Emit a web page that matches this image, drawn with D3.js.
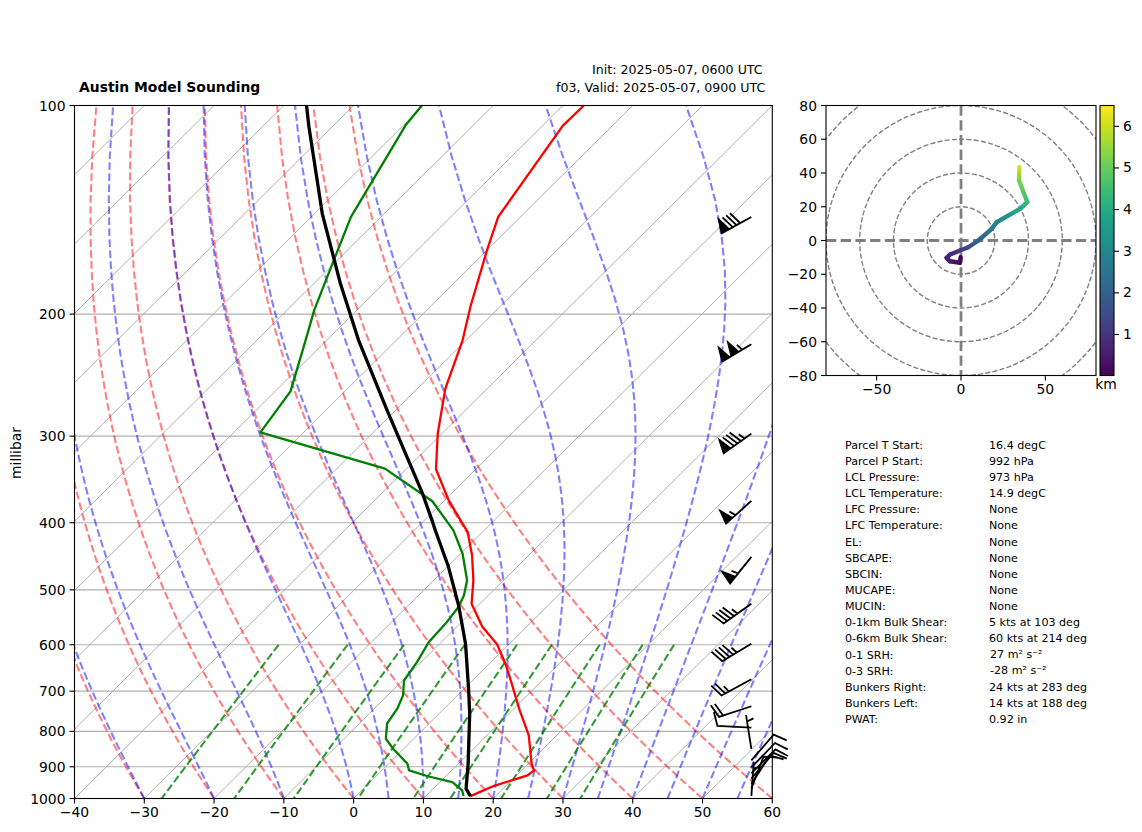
<!DOCTYPE html>
<html>
<head>
<meta charset="utf-8">
<title>Austin Model Sounding</title>
<script src="https://cdn.jsdelivr.net/npm/d3@7"></script>
<style>
    body { margin: 0; background: #fff; }
    text { font-family: "DejaVu Sans", sans-serif; fill: #000; }
    .tick text { font-family: "DejaVu Sans", sans-serif; font-size: 13.9px; }
    .tick line { stroke: #000; stroke-width: 1.1px; }
</style>
</head>
<body>
<div id="chart"></div>
<script>
// temperature profile
const tempPressure = [992, 958.7, 926.3, 911, 891, 811, 741.3, 675.7, 639, 599, 564.6, 523.5, 484.6, 445.9, 412.6, 396.9, 371.3, 334.9, 297.5, 256.2, 218.2, 195.3, 161.8, 144.8, 107, 100];
const tempValues = [16.4, 18.3, 21.6, 21.8, 20.5, 16.0, 10.7, 5.5, 2.3, -1.7, -6.4, -11.2, -14.3, -18.1, -22.1, -24.8, -29.4, -35.7, -40.6, -46.0, -50.5, -54.2, -60.0, -63.2, -67.1, -67.0];

// dewpoint profile
const dewPressure = [992, 973.7, 947.3, 929.5, 911, 891, 847.7, 820, 780, 742, 710, 675.7, 635.6, 594.6, 556.6, 529.6, 509.3, 484.6, 443.4, 410.2, 372.5, 334.2, 296.2, 258.5, 218.2, 197.5, 165.4, 144.8, 106.8, 100.1];
const dewValues = [15.4, 14.4, 11.8, 7.6, 3.9, 2.7, -1.5, -4.0, -6.0, -6.7, -7.8, -9.8, -10.6, -11.8, -12.1, -12.6, -13.5, -15.2, -19.7, -24.4, -31.6, -43.1, -66.2, -67.8, -73.0, -76.1, -80.8, -84.3, -89.7, -90.2];

// parcel path
const parcelPressure = [992, 968, 891, 754.5, 693.9, 597.9, 526.6, 461, 410.2, 396.9, 363.2, 275.4, 218.2, 180.7, 143.2, 107.4, 100.1];
const parcelValues = [16.4, 14.7, 11.4, 4.4, 0.6, -6.3, -12.8, -20.1, -27.0, -28.9, -34.1, -51.2, -65.4, -76.2, -88.9, -103.3, -106.7];

// wind barbs
const barbPressure = [144.8, 221, 297.5, 372, 448, 523.5, 597.9, 673, 736, 790, 847.7, 881, 902, 920, 936, 953, 967, 992];
const barbDirection = [241, 239, 234.5, 228, 218.7, 234.5, 239, 241.6, 251.8, 273, 351, 41, 44, 45, 41, 33, 21, 4];
const barbSpeed = [80, 105, 85, 55, 55, 45, 45, 25, 20, 10, 5, 10, 10, 10, 10, 10, 10, 5];

// hodograph
const hodoU = [-0.2, -0.6, -6.5, -8.5, -6.5, -0.6, 4.3, 10.3, 18.2, 21.1, 35, 39.3, 34.4, 34.6];
const hodoV = [-9.9, -13.2, -12.3, -10.3, -8.3, -5.9, -4, 0, 6.9, 10.8, 18.8, 22.7, 35.6, 43.4];
const hodoHeight = [0.05, 0.2, 0.4, 0.6, 0.8, 1.1, 1.4, 2.0, 2.6, 3.0, 3.9, 4.4, 5.2, 6.1];
const hodoRings = [20, 40, 60, 80, 100];
const hodoTicksX = [-50, 0, 50];
const hodoTicksY = [-80, -60, -40, -20, 0, 20, 40, 60, 80];
const heightTicks = [1, 2, 3, 4, 5, 6];

// background lines of the skew-T
const pressureTicks = [100, 200, 300, 400, 500, 600, 700, 800, 900, 1000];
const tempTicks = [-40, -30, -20, -10, 0, 10, 20, 30, 40, 50, 60];
const mixingRatios = [0.0004, 0.001, 0.002, 0.004, 0.007, 0.01, 0.016, 0.024, 0.032];

// parameter table
const tableLabels = ["Parcel T Start:", "Parcel P Start:", "LCL Pressure:", "LCL Temperature:", "LFC Pressure:", "LFC Temperature:", "EL:", "SBCAPE:", "SBCIN:", "MUCAPE:", "MUCIN:", "0-1km Bulk Shear:", "0-6km Bulk Shear:", "0-1 SRH:", "0-3 SRH:", "Bunkers Right:", "Bunkers Left:", "PWAT:"];
const tableValues = ["16.4 degC", "992 hPa", "973 hPa", "14.9 degC", "None", "None", "None", "None", "None", "None", "None", "5 kts at 103 deg", "60 kts at 214 deg", "27 m² s⁻²", "-28 m² s⁻²", "24 kts at 283 deg", "14 kts at 188 deg", "0.92 in"];

const svg = d3.select("#chart").append("svg").attr("width", 1142).attr("height", 832);
const defs = svg.append("defs");

const plotLeft = 74.5, plotRight = 772.3, plotTop = 105.5, plotBottom = 798.5;
const xScale = d3.scaleLinear().domain([-40, 60]).range([plotLeft, plotRight]);
const yScale = d3.scaleLog().domain([1000, 100]).range([plotBottom, plotTop]);

// 45 deg skew done in axes coordinates, same as the matplotlib skewx projection
function skewX(t, p) {
    return xScale(t) + (plotBottom - yScale(p)) / (plotBottom - plotTop) * (plotRight - plotLeft);
}

const skewLine = d3.line().x(d => skewX(d[0], d[1])).y(d => yScale(d[1]));

defs.append("clipPath").attr("id", "plot-clip").append("rect")
    .attr("x", plotLeft).attr("y", plotTop)
    .attr("width", plotRight - plotLeft).attr("height", plotBottom - plotTop);

const plot = svg.append("g").attr("clip-path", "url(#plot-clip)");

// Grid
d3.range(-140, 61, 10).forEach(t => {
    plot.append("path")
        .attr("d", skewLine([[t, 1000], [t, 100]]))
        .attr("fill", "none").attr("stroke", "#b0b0b0").attr("stroke-width", 1);
});
pressureTicks.forEach(p => {
    plot.append("line")
        .attr("x1", plotLeft).attr("x2", plotRight)
        .attr("y1", yScale(p)).attr("y2", yScale(p))
        .attr("stroke", "#b0b0b0").attr("stroke-width", 1.1);
});

// Thermodynamic background
const levels = d3.range(0, 50).map(i => 1000 - i * 900 / 49);

function satVapor(tK) {
    return 6.112 * Math.exp(17.67 * (tK - 273.15) / (tK - 29.65));
}

function moistSlope(tK, p) {
    const es = satVapor(tK);
    const rs = 0.622 * es / (p - es);
    const lv = 2.501e6, rd = 287.047, cp = 1004.67;
    return (rd * tK + lv * rs) / (cp + lv * lv * rs * 0.622 / (rd * tK * tK)) / p;
}

function moistAdiabat(t0) {
    let tK = t0 + 273.15;
    let p = 1000;
    return levels.map(level => {
        const steps = 8;
        const dp = (level - p) / steps;
        for (let i = 0; i < steps; i++) {
            const k1 = moistSlope(tK, p);
            const k2 = moistSlope(tK + k1 * dp / 2, p + dp / 2);
            const k3 = moistSlope(tK + k2 * dp / 2, p + dp / 2);
            const k4 = moistSlope(tK + k3 * dp, p + dp);
            tK += dp * (k1 + 2 * k2 + 2 * k3 + k4) / 6;
            p += dp;
        }
        return [tK - 273.15, level];
    });
}

function dryAdiabat(t0) {
    return levels.map(p => [(t0 + 273.15) * Math.pow(p / 1000, 287.047 / 1004.67) - 273.15, p]);
}

function mixingLine(w) {
    return d3.range(0, 50).map(i => {
        const p = 600 + i * 400 / 49;
        const val = Math.log(p * w / (0.622 + w) / 6.112);
        return [243.5 * val / (17.67 - val), p];
    });
}

function drawBackground(lines, color, opacity) {
    lines.forEach(line => {
        plot.append("path")
            .attr("d", skewLine(line))
            .attr("fill", "none")
            .attr("stroke", color)
            .attr("stroke-opacity", opacity)
            .attr("stroke-width", 2.08)
            .attr("stroke-dasharray", "7.7,3.3");
    });
}

drawBackground(d3.range(-40, 61, 10).map(dryAdiabat), "#ff0000", 0.5);
drawBackground(d3.range(-40, 0, 10).concat(d3.range(0, 61, 5)).map(moistAdiabat), "#0000ff", 0.5);
drawBackground(mixingRatios.map(mixingLine), "#008000", 0.8);

// Profiles
function drawProfile(pressures, values, color, width) {
    plot.append("path")
        .attr("d", skewLine(values.map((t, i) => [t, pressures[i]])))
        .attr("fill", "none")
        .attr("stroke", color)
        .attr("stroke-width", width)
        .attr("stroke-linejoin", "round");
}

drawProfile(tempPressure, tempValues, "#ff0000", 2.3);
drawProfile(dewPressure, dewValues, "#008000", 2.3);
drawProfile(parcelPressure, parcelValues, "#000000", 3.3);

// Wind barbs, built the way matplotlib does it: tip at the pivot, flags first from the tail
function barbPath(speed, direction) {
    const len = 34, spacing = len * 0.125, height = len * 0.4, width = len * 0.25;
    let rest = Math.round(speed / 5) * 5;
    const flags = Math.floor(rest / 50); rest -= flags * 50;
    const full = Math.floor(rest / 10); rest -= full * 10;
    const half = rest >= 5;
    const verts = [[0, 0]];
    let offset = len;
    for (let i = 0; i < flags; i++) {
        if (offset !== len) offset += spacing / 2;
        verts.push([0, offset], [height, offset - width / 2], [0, offset - width]);
        offset -= width + spacing;
    }
    for (let i = 0; i < full; i++) {
        verts.push([0, offset], [height, offset + width / 2], [0, offset]);
        offset -= spacing;
    }
    if (half) {
        if (offset === len) {
            verts.push([0, offset]);
            offset -= 1.5 * spacing;
        }
        verts.push([0, offset], [height / 2, offset + width / 4], [0, offset]);
    }
    verts.push([0, 0]);
    const a = direction * Math.PI / 180;
    // local y runs tip to tail, local x is the feather side
    return "M" + verts.map(v => {
        const sx = v[1] * Math.sin(a) + v[0] * Math.cos(a);
        const sy = -v[1] * Math.cos(a) + v[0] * Math.sin(a);
        return sx.toFixed(2) + "," + sy.toFixed(2);
    }).join("L") + "Z";
}

const barbX = plotLeft + 0.97 * (plotRight - plotLeft);
barbPressure.forEach((p, i) => {
    svg.append("path")
        .attr("transform", `translate(${barbX},${yScale(p)})`)
        .attr("d", barbPath(barbSpeed[i], barbDirection[i]))
        .attr("fill", "#000")
        .attr("stroke", "#000")
        .attr("stroke-width", 1.8)
        .attr("stroke-linejoin", "miter");
});

// Axes and frame
svg.append("rect")
    .attr("x", plotLeft).attr("y", plotTop)
    .attr("width", plotRight - plotLeft).attr("height", plotBottom - plotTop)
    .attr("fill", "none").attr("stroke", "#000").attr("stroke-width", 1.1);

function styleAxis(g) {
    g.select(".domain").remove();
    g.selectAll(".tick line").attr("stroke", "#000");
}

function leftLabels(g) {
    g.selectAll(".tick text").attr("dy", "0.36em");
}

svg.append("g").attr("transform", `translate(0,${plotBottom})`)
    .call(d3.axisBottom(xScale).offset(0).tickValues(tempTicks).tickSize(5).tickPadding(4).tickFormat(d3.format("d")))
    .call(styleAxis);
svg.append("g").attr("transform", `translate(${plotLeft},0)`)
    .call(d3.axisLeft(yScale).offset(0).tickValues(pressureTicks).tickSize(5).tickPadding(4).tickFormat(d3.format("d")))
    .call(styleAxis).call(leftLabels);

svg.append("text")
    .attr("transform", "translate(21,453) rotate(-90)")
    .attr("text-anchor", "middle")
    .style("font-size", "13.9px")
    .text("millibar");

// Titles
svg.append("text").attr("x", 79).attr("y", 92)
    .style("font-size", "13.9px").style("font-weight", "bold")
    .text("Austin Model Sounding");
svg.append("text").attr("x", 592).attr("y", 74)
    .style("font-size", "12.6px")
    .text("Init: 2025-05-07, 0600 UTC");
svg.append("text").attr("x", 556).attr("y", 92)
    .style("font-size", "12.6px")
    .text("f03, Valid: 2025-05-07, 0900 UTC");

// Hodograph
const hodoLeft = 826, hodoRight = 1096, hodoTop = 105.5, hodoBottom = 375.5;
const hodoX = d3.scaleLinear().domain([-80, 80]).range([hodoLeft, hodoRight]);
const hodoY = d3.scaleLinear().domain([-80, 80]).range([hodoBottom, hodoTop]);
const heightScale = d3.scaleLinear().domain([0.015, 6.5]).range([hodoBottom, hodoTop]);
const heightColor = d3.scaleSequential(d3.interpolateViridis).domain([0.015, 6.5]);

defs.append("clipPath").attr("id", "hodo-clip").append("rect")
    .attr("x", hodoLeft).attr("y", hodoTop)
    .attr("width", hodoRight - hodoLeft).attr("height", hodoBottom - hodoTop);

const hodo = svg.append("g").attr("clip-path", "url(#hodo-clip)");

hodoRings.forEach(r => {
    hodo.append("circle")
        .attr("cx", hodoX(0)).attr("cy", hodoY(0))
        .attr("r", hodoX(r) - hodoX(0))
        .attr("fill", "none").attr("stroke", "#808080")
        .attr("stroke-width", 1.39).attr("stroke-dasharray", "5.1,2.2");
});
hodo.append("line").attr("x1", hodoLeft).attr("x2", hodoRight)
    .attr("y1", hodoY(0)).attr("y2", hodoY(0))
    .attr("stroke", "#808080").attr("stroke-width", 2.78).attr("stroke-dasharray", "10.3,4.4");
hodo.append("line").attr("y1", hodoTop).attr("y2", hodoBottom)
    .attr("x1", hodoX(0)).attr("x2", hodoX(0))
    .attr("stroke", "#808080").attr("stroke-width", 2.78).attr("stroke-dasharray", "10.3,4.4");

// one gradient per segment so the colour follows height along the trace
hodoU.slice(1).forEach((u, i) => {
    const id = `hodo-seg-${i}`;
    const grad = defs.append("linearGradient").attr("id", id)
        .attr("gradientUnits", "userSpaceOnUse")
        .attr("x1", hodoX(hodoU[i])).attr("y1", hodoY(hodoV[i]))
        .attr("x2", hodoX(u)).attr("y2", hodoY(hodoV[i + 1]));
    grad.append("stop").attr("offset", "0%").attr("stop-color", heightColor(hodoHeight[i]));
    grad.append("stop").attr("offset", "100%").attr("stop-color", heightColor(hodoHeight[i + 1]));
    hodo.append("path")
        .attr("d", `M${hodoX(hodoU[i])},${hodoY(hodoV[i])}L${hodoX(u)},${hodoY(hodoV[i + 1])}`)
        .attr("stroke", `url(#${id})`)
        .attr("stroke-width", 4.4)
        .attr("stroke-linecap", "round")
        .attr("fill", "none");
});

svg.append("rect")
    .attr("x", hodoLeft).attr("y", hodoTop)
    .attr("width", hodoRight - hodoLeft).attr("height", hodoBottom - hodoTop)
    .attr("fill", "none").attr("stroke", "#000").attr("stroke-width", 1.1);

svg.append("g").attr("transform", `translate(0,${hodoBottom})`)
    .call(d3.axisBottom(hodoX).offset(0).tickValues(hodoTicksX).tickSize(5).tickPadding(4).tickFormat(d3.format("d")))
    .call(styleAxis);
svg.append("g").attr("transform", `translate(${hodoLeft},0)`)
    .call(d3.axisLeft(hodoY).offset(0).tickValues(hodoTicksY).tickSize(5).tickPadding(4).tickFormat(d3.format("d")))
    .call(styleAxis).call(leftLabels);

// Colorbar
const barLeft = 1100, barWidth = 14;
const barGrad = defs.append("linearGradient").attr("id", "height-grad")
    .attr("x1", 0).attr("x2", 0).attr("y1", 1).attr("y2", 0);
d3.range(0, 1.001, 0.05).forEach(f => {
    barGrad.append("stop").attr("offset", f).attr("stop-color", d3.interpolateViridis(f));
});
svg.append("rect")
    .attr("x", barLeft).attr("y", hodoTop)
    .attr("width", barWidth).attr("height", hodoBottom - hodoTop)
    .attr("fill", "url(#height-grad)")
    .attr("stroke", "#000").attr("stroke-width", 1.1);
svg.append("g").attr("transform", `translate(${barLeft + barWidth},0)`)
    .call(d3.axisRight(heightScale).offset(0).tickValues(heightTicks).tickSize(5).tickPadding(4).tickFormat(d3.format("d")))
    .call(styleAxis);
svg.append("text").attr("x", 1106).attr("y", 389)
    .attr("text-anchor", "middle")
    .style("font-size", "13.9px")
    .text("km");

// Parameter table
const rowScale = d3.scaleLinear().domain([0, 17]).range([448.7, 723.2]);
tableLabels.forEach((label, i) => {
    svg.append("text").attr("x", 845).attr("y", rowScale(i))
        .style("font-size", "11.1px").text(label);
    // the two SRH rows were mathtext in the original, they sit a little higher
    const isSrh = tableValues[i].includes("m²");
    svg.append("text").attr("x", isSrh ? 990 : 989).attr("y", rowScale(i) - (isSrh ? 1 : 0))
        .style("font-size", "11.1px").text(tableValues[i]);
});
</script>
</body>
</html>
